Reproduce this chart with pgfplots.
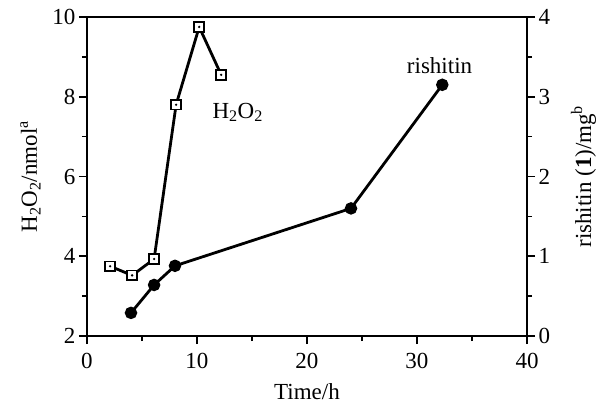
\documentclass[border=0pt]{standalone}
\usepackage{pgfplots}
\pgfplotsset{compat=1.18}
\usepackage{fontspec}
\setmainfont{Liberation Serif}

% open square with a dot in the middle
\pgfdeclareplotmark{sqdot}{%
  \pgfpathrectangle{\pgfpoint{-\pgfplotmarksize}{-\pgfplotmarksize}}{\pgfpoint{2\pgfplotmarksize}{2\pgfplotmarksize}}%
  \pgfsetfillcolor{white}\pgfusepathqfillstroke
  \pgfpathcircle{\pgfpointorigin}{1.3pt}%
  \pgfsetfillcolor{black}\pgfusepathqfill}

\newcommand{\bigf}{\fontsize{23}{26}\selectfont}

\pgfplotsset{
  base/.style={
    width=440pt, height=319pt, scale only axis,
    at={(0,0)}, anchor=south west,
    xmin=0, xmax=40,
    axis line style={-, line width=1.6pt},
    tick align=outside,
    major tick length=8pt, minor tick length=5pt,
    every tick/.style={black, line width=1.6pt},
    /pgf/number format/assume math mode=true,
    tick label style={font=\bigf},
    label style={font=\bigf},
  }
}

\begin{document}
\begin{tikzpicture}
\useasboundingbox (-87pt,-74pt) rectangle (518pt,336pt);
\begin{axis}[
    base,
    axis x line*=bottom, axis y line*=left,
    ymin=2, ymax=10,
    ytick={2,4,6,8,10}, minor ytick={3,5,7,9},
    xtick={0,10,20,30,40}, minor xtick={5,15,25,35},
    xticklabel style={yshift=-6pt},
    xlabel={Time/h},
    xlabel style={yshift=-8pt},
    ylabel={H\textsubscript{2}O\textsubscript{2}/nmol\textsuperscript{a}},
    ylabel style={yshift=5pt},
]
    \addplot[black, line width=2.8pt, mark=sqdot, mark size=4.8pt,
             mark options={line width=1.8pt}] coordinates {
        (2.1,3.75)(4.1,3.52)(6.1,3.93)(8.1,7.8)(10.2,9.75)(12.2,8.55)
    };
    \node[font=\bigf] at (axis cs:13.7,7.61) {H\textsubscript{2}O\textsubscript{2}};
    \node[font=\bigf] at (axis cs:32.05,8.79) {rishitin};
\end{axis}
\begin{axis}[
    base,
    axis x line*=top, axis y line*=right,
    xtick=\empty,
    ymin=0, ymax=4,
    ytick={0,1,2,3,4}, minor ytick={0.5,1.5,2.5,3.5},
    ylabel={rishitin (\textbf{1})/mg\textsuperscript{b}},
    ylabel style={yshift=-14pt},
]
    \addplot[black, line width=2.8pt, mark=*, mark size=4.8pt] coordinates {
        (4.0,0.29)(6.1,0.64)(8.0,0.88)(24.0,1.6)(32.3,3.15)
    };
\end{axis}
\end{tikzpicture}
\end{document}
